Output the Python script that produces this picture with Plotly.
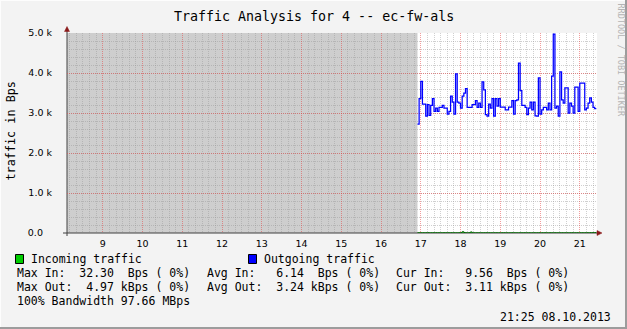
import plotly.graph_objects as go
import pandas as pd

W, H = 627, 329
L, R, T, B = 67, 30, 33, 96  # plot area: x 67..597, y 33..233

title_text = "Traffic Analysis for 4 -- ec-fw-als"
y_title = "traffic in Bps"
watermark = "RRDTOOL / TOBI OETIKER"
stamp = "21:25 08.10.2013"

range_start = "2013-10-08 08:06:00"
range_end = "2013-10-08 21:26:00"
data_start = "2013-10-08 16:55:00"
step_seconds = 150

# Outgoing traffic (kBps)
out_k = [2.72, 3.36, 3.79, 3.22, 3.22, 2.92, 3.21, 2.94, 3.19, 3.36,
         3.04, 3.12, 3.04, 3.14, 3.14, 3.19, 3.12, 3.12, 2.97, 3.04,
         3.42, 3.27, 2.97, 3.98, 3.27, 3.25, 3.12, 3.42, 3.50, 3.61,
         3.14, 3.14, 3.14, 3.21, 3.21, 3.31, 3.14, 3.25, 3.14, 3.78,
         3.58, 2.96, 2.92, 3.22, 3.12, 3.36, 2.92, 3.36, 3.17, 3.36,
         3.15, 3.15, 3.15, 3.08, 3.08, 3.15, 3.15, 3.31, 2.97, 3.31,
         3.33, 4.25, 3.56, 3.19, 3.19, 3.14, 2.96, 3.12, 3.27, 3.08,
         3.27, 2.93, 2.92, 3.88, 2.97, 3.08, 3.14, 3.14, 3.08, 3.25,
         3.08, 3.92, 4.97, 3.12, 3.17, 2.92, 4.03, 3.33, 3.25, 3.63,
         3.63, 3.00, 3.25, 3.17, 3.00, 3.65, 3.65, 3.04, 3.75, 3.75,
         3.75, 3.08, 3.12, 3.25, 3.38, 3.27, 3.14, 3.11]

# Incoming traffic (Bps) (near zero on this scale)
in_bps = [6.5, 7.2, 5.8, 6.1, 4.9, 6.8, 7.5, 5.2, 6.0, 6.6,
          5.4, 7.0, 6.3, 5.9, 4.8, 6.2, 7.1, 5.6, 6.4, 5.0,
          6.9, 5.7, 6.1, 4.6, 5.5, 6.8, 9.8, 32.3, 12.4, 6.2,
          5.1, 8.0, 26.5, 7.4, 5.3, 4.7, 6.0, 5.8, 4.4, 5.1,
          6.2, 5.5, 4.9, 6.3, 5.0, 4.2, 5.6, 6.1, 4.8, 5.2,
          3.9, 5.4, 6.0, 4.6, 5.1, 4.3, 5.7, 6.4, 4.9, 5.3,
          4.1, 5.0, 5.8, 4.4, 6.2, 5.1, 4.7, 5.5, 3.8, 4.9,
          5.6, 4.5, 5.2, 6.0, 4.3, 5.4, 4.8, 5.9, 4.2, 5.1,
          6.3, 4.6, 5.0, 5.7, 4.1, 5.5, 4.9, 6.1, 4.4, 5.3,
          5.8, 4.7, 5.2, 6.6, 4.5, 5.0, 5.9, 4.3, 5.6, 6.2,
          4.8, 5.4, 7.1, 6.0, 8.2, 7.4, 8.8, 9.56]

y_ticks = [0, 1000, 2000, 3000, 4000, 5000]
y_ticktext = ["0.0\u00a0\u00a0\u00a0", "1.0 k", "2.0 k", "3.0 k", "4.0 k", "5.0 k"]

legend_items = [("Incoming traffic", "#00cc00"), ("Outgoing traffic", "#0000ff")]
stats_rows = [
    ["Max In:  32.30  Bps ( 0%)", "Avg In:   6.14  Bps ( 0%)", "Cur In:   9.56  Bps ( 0%)"],
    ["Max Out:  4.97 kBps ( 0%)", "Avg Out:  3.24 kBps ( 0%)", "Cur Out:  3.11 kBps ( 0%)"],
]
bandwidth_text = "100% Bandwidth 97.66 MBps"

PW, PH = W - L - R, H - T - B


def pxx(x):
    return (x - L) / PW


def pyy(y):
    return (H - B - y) / PH


n = len(out_k)
times = pd.date_range(data_start, periods=n + 1, freq=f"{step_seconds}s")
out_vals = [v * 1000 for v in out_k] + [out_k[-1] * 1000]
in_vals = in_bps + [in_bps[-1]]

MONO = "DejaVu Sans Mono"
SANS = "DejaVu Sans"

fig = go.Figure()
fig.add_trace(go.Scatter(x=times, y=in_vals, mode="lines", line=dict(color="#006400", width=1, shape="hv"),
                         fill="tozeroy", fillcolor="rgba(0,160,0,0.6)", hoverinfo="skip", showlegend=False))
fig.add_trace(go.Scatter(x=times, y=out_vals, mode="lines", line=dict(color="#0000ff", width=1.25, shape="hv"),
                         hoverinfo="skip", showlegend=False))

shapes = []
# unknown-data shading
shapes.append(dict(type="rect", xref="x", yref="paper", x0=range_start, x1=times[0], y0=0, y1=1,
                   fillcolor="#cecece", line=dict(width=0), layer="below"))
# axes lines
shapes.append(dict(type="line", xref="paper", yref="paper", x0=pxx(63), x1=pxx(598), y0=0, y1=0,
                   line=dict(color="#404040", width=1), layer="between"))
shapes.append(dict(type="line", xref="paper", yref="paper", x0=0, x1=0, y0=pyy(236), y1=pyy(30),
                   line=dict(color="#404040", width=1), layer="between"))
# arrows
shapes.append(dict(type="path", xref="paper", yref="paper",
                   path=f"M {pxx(64.5)},{pyy(31.5)} L {pxx(69.5)},{pyy(31.5)} L {pxx(67)},{pyy(26.5)} Z",
                   fillcolor="#8b1a1a", line=dict(color="#8b1a1a", width=0.5), layer="above"))
shapes.append(dict(type="path", xref="paper", yref="paper",
                   path=f"M {pxx(597)},{pyy(230.5)} L {pxx(597)},{pyy(235.5)} L {pxx(602)},{pyy(233)} Z",
                   fillcolor="#8b1a1a", line=dict(color="#8b1a1a", width=0.5), layer="above"))
# frame
shapes.append(dict(type="line", xref="paper", yref="paper", x0=pxx(0), x1=pxx(627), y0=pyy(0.5), y1=pyy(0.5),
                   line=dict(color="#fdfdfd", width=1)))
shapes.append(dict(type="line", xref="paper", yref="paper", x0=pxx(0.5), x1=pxx(0.5), y0=pyy(0), y1=pyy(329),
                   line=dict(color="#fdfdfd", width=1)))
shapes.append(dict(type="line", xref="paper", yref="paper", x0=pxx(0), x1=pxx(627), y0=pyy(328), y1=pyy(328),
                   line=dict(color="#9c9c9c", width=2)))
shapes.append(dict(type="line", xref="paper", yref="paper", x0=pxx(626), x1=pxx(626), y0=pyy(0), y1=pyy(329),
                   line=dict(color="#9c9c9c", width=2)))

# legend boxes
legend_x = [15.5, 248.5]
for (label, color), lx in zip(legend_items, legend_x):
    shapes.append(dict(type="rect", xref="paper", yref="paper", x0=pxx(lx), x1=pxx(lx + 8),
                       y0=pyy(263.5), y1=pyy(254.5), fillcolor=color, line=dict(color="#000000", width=1)))

annotations = []
annotations.append(dict(text=title_text, xref="paper", yref="paper", x=pxx(313.5), y=pyy(16),
                        xanchor="center", yanchor="middle", showarrow=False,
                        font=dict(family=MONO, size=13.3, color="#000000")))
annotations.append(dict(text=y_title, xref="paper", yref="paper", x=pxx(10.5), y=pyy(131),
                        xanchor="center", yanchor="middle", showarrow=False, textangle=-90,
                        font=dict(family=MONO, size=11.8, color="#000000")))
annotations.append(dict(text=watermark, xref="paper", yref="paper", x=pxx(620.5), y=pyy(60),
                        xanchor="center", yanchor="middle", showarrow=False, textangle=90,
                        font=dict(family=MONO, size=8.5, color="#b4b4b4")))
for (label, color), lx in zip(legend_items, legend_x):
    annotations.append(dict(text=label, xref="paper", yref="paper", x=pxx(lx + 14.5), y=pyy(259),
                            xanchor="left", yanchor="middle", showarrow=False, borderpad=0,
                            font=dict(family=MONO, size=11.5, color="#000000")))
col_x = [16, 205.5, 394.5]
row_y = [273.3, 287]
for row, ry in zip(stats_rows, row_y):
    for txt, cx in zip(row, col_x):
        annotations.append(dict(text=txt.replace(" ", "\u00a0"), xref="paper", yref="paper", x=pxx(cx), y=pyy(ry),
                                xanchor="left", yanchor="middle", showarrow=False, borderpad=0,
                                font=dict(family=MONO, size=11.5, color="#000000")))
annotations.append(dict(text=bandwidth_text, xref="paper", yref="paper", x=pxx(16), y=pyy(300.7),
                        xanchor="left", yanchor="middle", showarrow=False, borderpad=0,
                        font=dict(family=MONO, size=11.5, color="#000000")))
annotations.append(dict(text=stamp, xref="paper", yref="paper", x=pxx(612), y=pyy(316.5),
                        xanchor="right", yanchor="middle", showarrow=False, borderpad=0,
                        font=dict(family=MONO, size=11.5, color="#000000")))

fig.update_layout(
    width=W, height=H,
    margin=dict(l=L, r=R, t=T, b=B, pad=0),
    paper_bgcolor="#f3f3f3", plot_bgcolor="#ffffff",
    showlegend=False,
    shapes=shapes, annotations=annotations,
)
fig.update_xaxes(
    type="date", range=[range_start, range_end],
    tickmode="linear", tick0="2013-10-08 00:00:00", dtick=3600000, tickformat="%-H",
    showgrid=True, gridcolor="rgba(230,60,60,0.5)", gridwidth=1, griddash="1px,1px",
    minor=dict(dtick=600000, tick0="2013-10-08 00:00:00", showgrid=True,
               gridcolor="rgba(150,150,150,0.45)", gridwidth=1, griddash="1px,1px"),
    showline=False, zeroline=False, ticks="", ticklabelstandoff=3,
    tickfont=dict(family=SANS, size=9.5, color="#000000"), layer="below traces",
)
fig.update_yaxes(
    range=[0, 5000], tickmode="array", tickvals=y_ticks, ticktext=y_ticktext,
    showgrid=True, gridcolor="rgba(230,60,60,0.5)", gridwidth=1, griddash="1px,1px",
    minor=dict(dtick=200, tick0=0, showgrid=True,
               gridcolor="rgba(150,150,150,0.45)", gridwidth=1, griddash="1px,1px"),
    showline=False, zeroline=False, ticks="", ticklabelstandoff=14,
    tickfont=dict(family=SANS, size=9.5, color="#000000"), layer="below traces",
)

fig.write_html("out.html")
